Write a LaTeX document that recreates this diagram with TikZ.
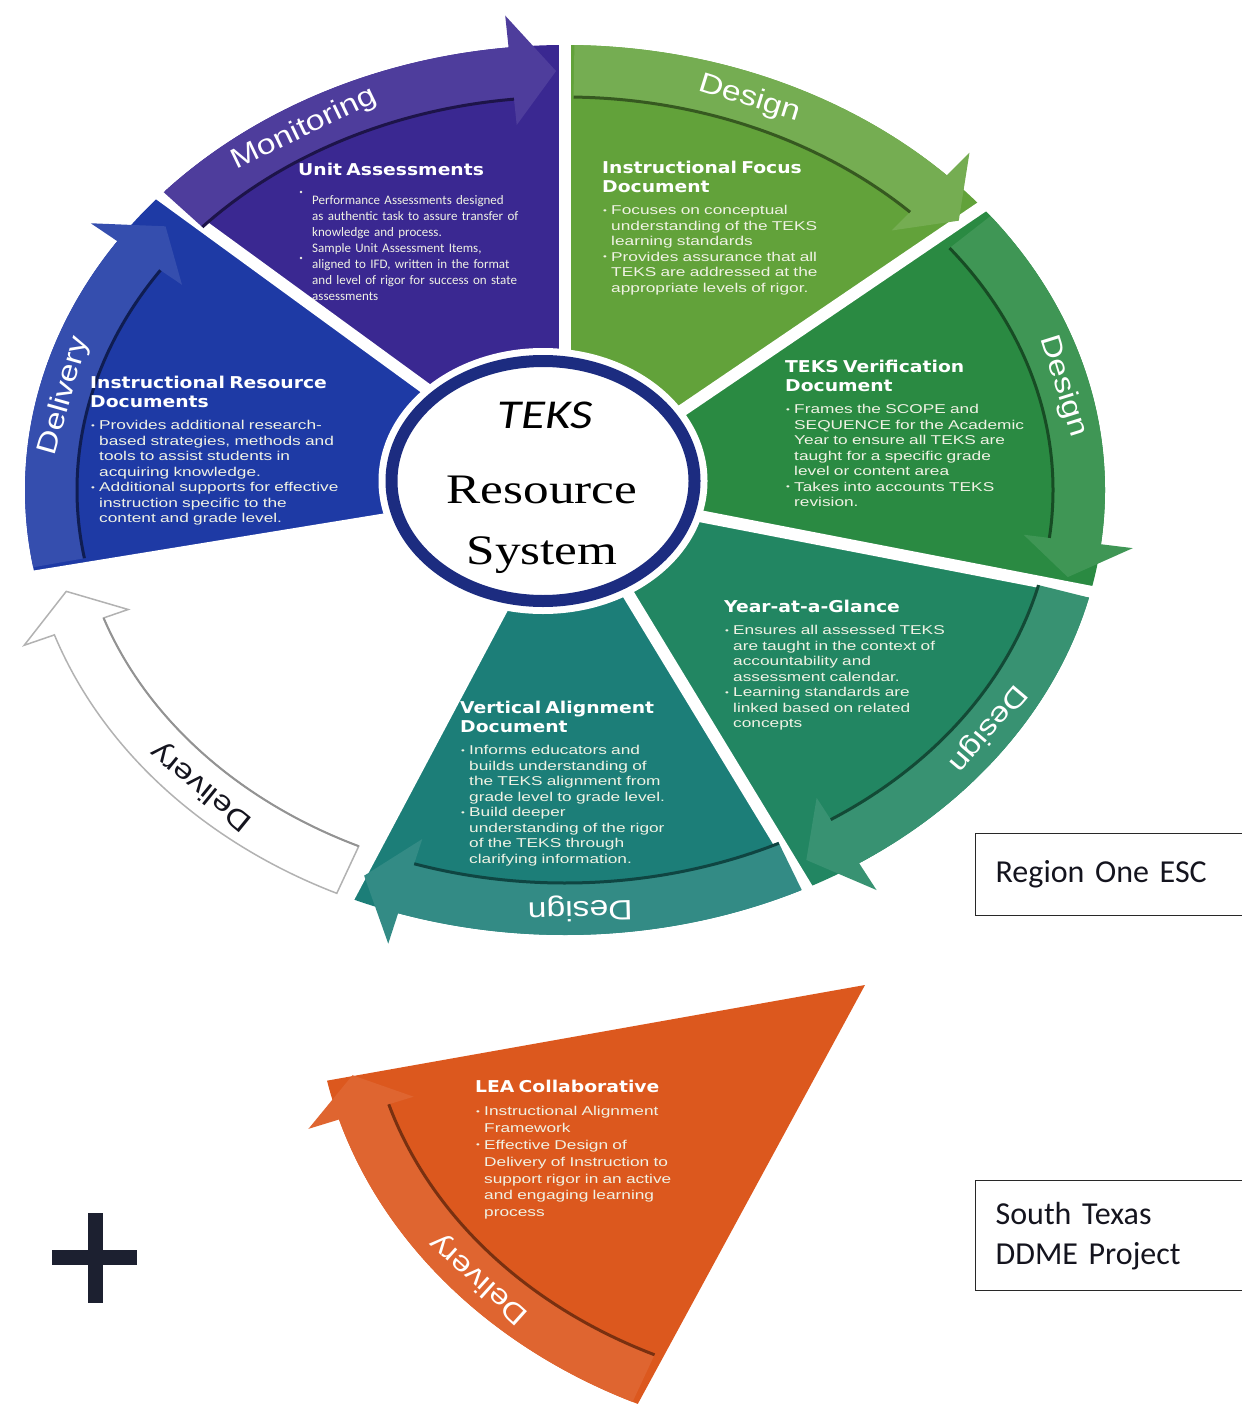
\documentclass[tikz,border=0pt]{standalone}
\usepackage{fontspec}
\usepackage{xcolor}
\usepackage{tikz}
\usetikzlibrary{calc, shapes.geometric}

\setmainfont{Liberation Sans}
\newfontfamily\panelfont{Liberation Sans}[FakeStretch=1.35]
\newfontfamily\titlefont{DejaVu Sans}[FakeStretch=1.15]
\newfontfamily\bandfont{Liberation Sans}[FakeStretch=1.2]
\newfontfamily\unitfont{Carlito}
\newfontfamily\hubsans{Carlito}[FakeStretch=1.2]
\newfontfamily\hubserif{Liberation Serif}[FakeStretch=1.22]
\newfontfamily\tagfont{Carlito}

\definecolor{delblue}{RGB}{30, 58, 165}
\definecolor{monpurple}{RGB}{58, 40, 145}
\definecolor{focgreen}{RGB}{98, 162, 58}
\definecolor{vergreen}{RGB}{42, 138, 66}
\definecolor{yagteal}{RGB}{34, 134, 98}
\definecolor{valteal}{RGB}{28, 126, 120}
\definecolor{leaorange}{RGB}{220, 88, 30}
\definecolor{hubnavy}{RGB}{28, 44, 128}
\definecolor{paneltext}{RGB}{240, 242, 228}
\definecolor{boxgray}{RGB}{40, 40, 40}
\definecolor{plusink}{RGB}{28, 32, 48}
\definecolor{tagink}{RGB}{20, 20, 30}

% panel title and bullet lines
\newcommand\ptitle[1]{{\titlefont\bfseries\fontsize{16.3}{19}\selectfont\leavevmode\textcolor{white}{#1}\par}\vspace{6.5pt}}
\newcommand\bul[1]{\hangindent=9pt\hangafter=1\noindent\makebox[9pt][l]{\hspace{1pt}\raisebox{1.5pt}{\fontsize{8}{8}\selectfont\textbullet}}#1\par}

% curved band with its head: tail angle, tip angle, x radius, y radius, band style, edge style
\newcommand\ringband[6]{%
  \pgfmathsetmacro\hb{#2+5}%
  \pgfmathsetmacro\rxi{#3-52}\pgfmathsetmacro\ryi{#4-52}%
  \path[#5] ({#3*cos(#1)},{#4*sin(#1)})
    arc[start angle=#1, end angle=\hb, x radius=#3, y radius=#4]
    -- ({(#3+32)*cos(\hb)},{(#4+32)*sin(\hb)})
    -- ({(#3-26)*cos(#2)},{(#4-26)*sin(#2)})
    -- ({(#3-78)*cos(\hb)},{(#4-78)*sin(\hb)})
    -- ({\rxi*cos(\hb)},{\ryi*sin(\hb)})
    arc[start angle=\hb, end angle=#1, x radius=\rxi, y radius=\ryi]
    -- cycle;
  \path[#6] ({\rxi*cos(\hb)},{\ryi*sin(\hb)})
    arc[start angle=\hb, end angle=#1, x radius=\rxi, y radius=\ryi];
}

\begin{document}
\begin{tikzpicture}[x=1pt, y=1pt,
    panel/.style={anchor=north west, inner sep=0pt, text width=280pt, align=left, text=paneltext, font=\panelfont\fontsize{12.8}{15.5}\selectfont},
    unitbody/.style={anchor=north west, inner sep=0pt, text width=240pt, align=left, text=paneltext, font=\unitfont\fontsize{13}{16}\selectfont},
    bandlabel/.style={inner sep=0pt, text=white, font=\bandfont\fontsize{28}{28}\selectfont},
    gap/.style={draw=white, line width=12pt},
    hub/.style={ellipse, fill=white, draw=hubnavy, line width=12pt, minimum width=303pt, minimum height=240pt, inner sep=0pt, preaction={draw=white, line width=26pt}},
    hubline/.style={anchor=base, inner sep=0pt, text=black},
    tagbox/.style={draw=boxgray, line width=1.3pt, anchor=north west, minimum width=290pt, inner xsep=20pt, inner ysep=0pt, text width=250pt, align=left, text=tagink, font=\tagfont\fontsize{32}{40}\selectfont}
  ]
  \useasboundingbox (0,0) rectangle (1241,-1420);

  % the wheel
  \begin{scope}[shift={(565,-490)}]
    \fill[delblue] (0,0) -- (191:540 and 445) arc[start angle=191, end angle=139, x radius=540, y radius=445] -- cycle;
    \fill[monpurple] (0,0) -- (139:540 and 445) arc[start angle=139, end angle=90, x radius=540, y radius=445] -- cycle;
    \fill[focgreen] (0,0) -- (90:540 and 445) arc[start angle=90, end angle=39, x radius=540, y radius=445] -- cycle;
    \fill[vergreen] (0,0) -- (39:540 and 445) arc[start angle=39, end angle=-13, x radius=540, y radius=445] -- cycle;
    \fill[yagteal] (0,0) -- (-13:540 and 445) arc[start angle=-13, end angle=-63, x radius=540, y radius=445] -- cycle;
    \fill[valteal] (0,0) -- (-63:540 and 445) arc[start angle=-63, end angle=-114, x radius=540, y radius=445] -- cycle;

    \draw[gap] (0,0) -- (191:620 and 520);
    \draw[gap] (0,0) -- (139:620 and 520);
    \draw[gap] (0,0) -- (90:620 and 520);
    \draw[gap] (0,0) -- (39:620 and 520);
    \draw[gap] (0,0) -- (-13:620 and 520);
    \draw[gap] (0,0) -- (-63:620 and 520);
    \draw[gap] (0,0) -- (-114:620 and 520);

    \ringband{190}{141}{540}{445}{fill=delblue!90!white}{draw=delblue!50!black, line width=3pt}
    \ringband{138}{91}{540}{445}{fill=monpurple!90!white}{draw=monpurple!50!black, line width=3pt}
    \ringband{89}{40}{540}{445}{fill=focgreen!88!white}{draw=focgreen!55!black, line width=3pt}
    \ringband{38}{-12}{540}{445}{fill=vergreen!90!white}{draw=vergreen!55!black, line width=3pt}
    \ringband{-14}{-62}{540}{445}{fill=yagteal!90!white}{draw=yagteal!55!black, line width=3pt}
    \ringband{-64}{-113}{540}{445}{fill=valteal!90!white}{draw=valteal!55!black, line width=3pt}
    \ringband{-115}{-166}{540}{445}{fill=white, draw=gray!60, line width=1.5pt}{draw=gray!85, line width=2pt}

    \node (deliverA) [bandlabel, rotate=74.2] at (167:514 and 419) {Delivery};
    \node (monitor) [bandlabel, rotate=25.8] at (120.5:514 and 419) {Monitoring};
    \node (designA) [bandlabel, rotate=-17.4] at (69:514 and 419) {Design};
    \node (designB) [bandlabel, rotate=-72.6] at (14.3:514 and 419) {Design};
    \node (designC) [bandlabel, rotate=-130.3] at (-34.7:514 and 419) {Design};
    \node (designD) [bandlabel, rotate=181.4] at (-88.3:514 and 419) {Design};
    \node (deliverB) [bandlabel, text=tagink, rotate=140.8] at (-135:514 and 419) {Delivery};
  \end{scope}

  % the LEA piece
  \begin{scope}[shift={(865,-985)}]
    \fill[leaorange] (0,0) -- (192:550 and 460) arc[start angle=192, end angle=245.6, x radius=550, y radius=460] -- cycle;
    \ringband{245}{192}{550}{460}{fill=leaorange!92!white}{draw=leaorange!55!black, line width=3pt}
    \node (deliverC) [bandlabel, rotate=138] at (222.6:524 and 434) {Delivery};
  \end{scope}

  % centre
  \node (hub) [hub] at (543,-481) {};
  \node (teks) [hubline, font=\hubsans\itshape\fontsize{41}{41}\selectfont] at (545,-428) {TEKS};
  \node (resource) [hubline, font=\hubserif\fontsize{42}{42}\selectfont] at (542,-503) {Resource};
  \node (system) [hubline, font=\hubserif\fontsize{42}{42}\selectfont] at (542,-564) {System};

  % panel texts
  \node (unithead) [panel] at (298,-163) {\ptitle{Unit Assessments}};
  \node (unitdotA) [circle, fill=paneltext, inner sep=0pt, minimum size=2.8pt] at (301,-192) {};
  \node (unitdotB) [circle, fill=paneltext, inner sep=0pt, minimum size=2.8pt] at (301,-258) {};
  \node (unittext) [unitbody] at (312,-195) {Performance Assessments designed\newline as authentic task to assure transfer of\newline knowledge and process.\newline Sample Unit Assessment Items,\newline aligned to IFD, written in the format\newline and level of rigor for success on state\newline assessments};

  \node (focus) [panel] at (602,-161) {\ptitle{Instructional Focus\newline Document}%
    \bul{Focuses on conceptual\newline understanding of the TEKS\newline learning standards}%
    \bul{Provides assurance that all\newline TEKS are addressed at the\newline appropriate levels of rigor.}};

  \node (verify) [panel] at (785,-360) {\ptitle{TEKS Verification\newline Document}%
    \bul{Frames the SCOPE and\newline SEQUENCE for the Academic\newline Year to ensure all TEKS are\newline taught for a specific grade\newline level or content area}%
    \bul{Takes into accounts TEKS\newline revision.}};

  \node (irdocs) [panel] at (90,-376) {\ptitle{Instructional Resource\newline Documents}%
    \bul{Provides additional research-\newline based strategies, methods and\newline tools to assist students in\newline acquiring knowledge.}%
    \bul{Additional supports for effective\newline instruction specific to the\newline content and grade level.}};

  \node (glance) [panel] at (724,-600) {\ptitle{Year-at-a-Glance}%
    \bul{Ensures all assessed TEKS\newline are taught in the context of\newline accountability and\newline assessment calendar.}%
    \bul{Learning standards are\newline linked based on related\newline concepts}};

  \node (vertical) [panel] at (460,-701) {\ptitle{Vertical Alignment\newline Document}%
    \bul{Informs educators and\newline builds understanding of\newline the TEKS alignment from\newline grade level to grade level.}%
    \bul{Build deeper\newline understanding of the rigor\newline of the TEKS through\newline clarifying information.}};

  \node (lea) [panel, font=\panelfont\fontsize{12.8}{16.8}\selectfont] at (475,-1080) {\ptitle{LEA Collaborative}%
    \bul{Instructional Alignment\newline Framework}%
    \bul{Effective Design of\newline Delivery of Instruction to\newline support rigor in an active\newline and engaging learning\newline process}};

  % side boxes
  \node (region) [tagbox, minimum height=82pt] at (975,-833) {Region One ESC};
  \node (project) [tagbox, minimum height=110pt] at (975,-1180) {South Texas\\DDME Project};

  % plus sign
  \fill[plusink] (88,-1213) rectangle (103,-1303);
  \fill[plusink] (52,-1250) rectangle (137,-1265);

\end{tikzpicture}
\end{document}
